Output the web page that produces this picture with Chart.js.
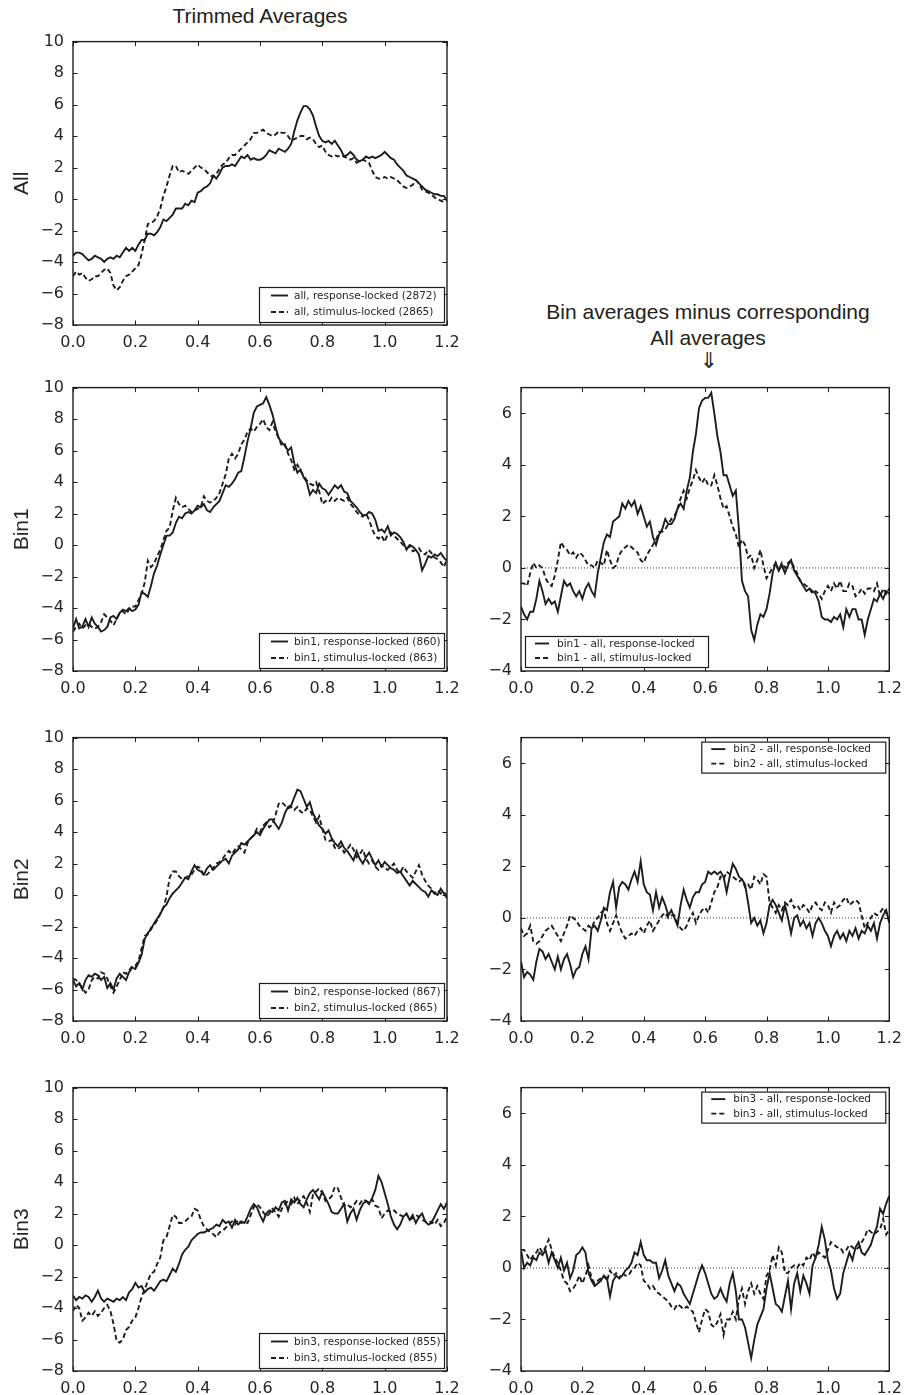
<!DOCTYPE html>
<html>
<head>
<meta charset="utf-8">
<script src="https://cdn.jsdelivr.net/npm/chart.js@4/dist/chart.umd.min.js"></script>
<style>
  html, body { margin: 0; padding: 0; background: #fff; }
  #fig { position: relative; width: 910px; height: 1395px; overflow: hidden; background: #fff; }
  #fig canvas { position: absolute; }
  .hdr { position: absolute; font-family: "Liberation Sans", Arial, sans-serif; font-size: 21px;
         color: #222; text-align: center; white-space: nowrap; line-height: 1; }
  .arrow { position: absolute; font-family: "DejaVu Sans", sans-serif; font-size: 22px;
           color: #222; text-align: center; line-height: 1; }
</style>
</head>
<body>
<div id="fig">
  <div class="hdr" style="left:110px; top:5px; width:300px;">Trimmed Averages</div>
  <div class="hdr" style="left:508px; top:301px; width:400px;">Bin averages minus corresponding</div>
  <div class="hdr" style="left:508px; top:327px; width:400px;">All averages</div>
  <div class="arrow" style="left:659px; top:350px; width:100px;">&#8659;</div>
</div>
<script>
// Sample times (s), one sample every 10 ms from 0.0 to 1.2
const timeSec = Array.from({ length: 121 }, (_, i) => i / 100);

// Trimmed averages, all trials
const allResp = [
  -3.6, -3.4, -3.4, -3.5, -3.7, -3.9, -3.8, -3.6, -3.7, -3.8,
  -4.0, -3.8, -3.7, -3.8, -3.6, -3.7, -3.4, -3.1, -3.3, -3.1,
  -3.3, -2.9, -2.6, -2.6, -2.2, -2.2, -2.3, -2.1, -1.8, -1.3,
  -1.4, -1.2, -1.0, -0.6, -0.6, -0.6, -0.3, -0.4, -0.1, -0.2,
  0.4, 0.5, 0.7, 0.8, 1.0, 1.5, 1.3, 1.6, 2.0, 2.1,
  2.1, 2.2, 2.1, 2.4, 2.7, 2.6, 2.8, 2.5, 2.6, 2.5,
  2.5, 2.6, 2.8, 3.1, 3.0, 2.9, 3.2, 3.1, 3.0, 3.2,
  3.5, 4.3, 5.0, 5.5, 5.9, 5.9, 5.7, 5.3, 4.6, 4.0,
  3.7, 3.6, 3.7, 3.5, 3.7, 3.4, 3.1, 2.7, 2.8, 3.0,
  2.8, 2.5, 2.4, 2.5, 2.7, 2.6, 2.7, 2.6, 2.7, 2.8,
  3.0, 2.8, 2.6, 2.5, 2.2, 2.0, 1.8, 1.5, 1.4, 1.3,
  1.2, 1.0, 0.8, 0.6, 0.5, 0.4, 0.3, 0.3, 0.2, 0.2, -0.1
];
const allStim = [
  -4.9, -4.6, -4.8, -4.7, -5.0, -5.2, -5.1, -4.9, -4.9, -4.7,
  -4.5, -4.4, -4.7, -5.5, -5.8, -5.6, -5.2, -4.9, -4.8, -4.6,
  -4.4, -4.2, -3.5, -2.6, -1.6, -1.5, -1.4, -1.1, -0.6, 0.2,
  0.8, 1.5, 2.1, 2.1, 1.7, 1.8, 1.7, 1.6, 1.8, 2.0,
  2.2, 2.0, 1.9, 1.7, 1.5, 1.4, 1.6, 1.9, 2.2, 2.3,
  2.6, 2.8, 2.8, 3.0, 3.2, 3.4, 3.6, 3.8, 4.2, 4.2,
  4.3, 4.4, 4.2, 4.1, 4.0, 4.1, 4.3, 4.2, 4.2, 4.0,
  3.7, 3.8, 3.9, 4.0, 4.0, 3.8, 3.9, 3.8, 3.5, 3.3,
  3.4, 3.0, 2.8, 2.7, 2.8, 2.7, 2.8, 2.7, 2.6, 2.5,
  2.6, 2.3, 2.4, 2.5, 2.4, 2.3, 1.8, 1.4, 1.3, 1.3,
  1.4, 1.3, 1.4, 1.3, 1.2, 1.0, 0.8, 0.7, 0.8, 0.9,
  1.2, 1.0, 0.6, 0.5, 0.4, 0.3, 0.1, 0.0, -0.1, -0.2, -0.1
];

// Bin 1
const bin1Resp = [
  -5.3, -4.7, -5.3, -5.2, -4.7, -5.2, -4.6, -5.0, -5.2, -5.5,
  -5.4, -5.2, -4.6, -4.5, -4.7, -4.3, -4.1, -4.2, -4.0, -4.2,
  -4.1, -3.8, -3.0, -3.1, -3.3, -2.6, -1.8, -1.3, -0.6, 0.0,
  0.6, 0.6, 0.8, 1.4, 1.8, 1.7, 2.0, 2.1, 2.0, 2.2,
  2.5, 2.4, 2.6, 2.2, 2.1, 2.4, 2.6, 2.8, 3.3, 3.8,
  3.7, 3.9, 4.2, 4.6, 4.7, 5.6, 6.6, 7.4, 8.4, 8.8,
  8.9, 9.0, 9.4, 8.9, 8.3, 7.5, 6.8, 6.5, 6.3, 6.0,
  6.2, 5.2, 4.6, 4.8, 4.3, 4.0, 3.2, 3.5, 3.3, 3.9,
  3.6, 3.5, 3.2, 3.5, 3.8, 3.6, 3.8, 3.4, 3.3, 2.8,
  2.6, 2.4, 2.1, 1.9, 1.9, 2.1, 2.0, 1.6, 0.9, 1.0,
  0.8, 1.2, 0.6, 0.8, 0.7, 0.5, 0.2, -0.3, 0.0, -0.1,
  -0.3, -0.6, -1.6, -1.2, -0.7, -0.8, -0.6, -0.7, -0.5, -0.8, -1.0
];
const bin1Stim = [
  -5.5, -5.2, -5.0, -5.3, -5.1, -5.0, -5.2, -5.3, -5.2, -4.9,
  -4.4, -4.6, -4.8, -5.1, -4.7, -4.3, -4.2, -4.4, -4.1, -3.9,
  -3.9, -3.5, -3.1, -2.4, -1.0, -1.4, -1.2, -0.7, -0.3, 0.3,
  0.9, 1.1, 2.2, 3.0, 2.6, 2.4, 2.5, 2.3, 2.1, 2.2,
  2.3, 2.4, 3.1, 2.8, 2.7, 2.8, 3.0, 3.3, 3.9, 4.5,
  5.5, 5.8, 5.5, 5.8, 6.4, 6.7, 7.2, 7.4, 7.2, 7.5,
  7.7, 8.0, 7.5, 7.3, 7.8, 7.2, 6.8, 6.3, 6.4, 5.8,
  5.4, 4.8, 5.1, 4.7, 4.4, 4.1, 3.9, 3.8, 4.0, 3.4,
  2.6, 2.8, 2.7, 3.0, 2.8, 3.0, 2.9, 2.8, 3.0, 2.6,
  2.4, 2.1, 1.9, 1.8, 2.0, 1.6, 1.0, 0.6, 0.4, 0.6,
  0.2, 0.7, 0.8, 0.6, 0.4, 0.2, 0.0, -0.2, -0.1, -0.4,
  -0.3, -0.2, -0.5, -0.6, -0.3, -0.5, -0.8, -0.9, -1.1, -1.4, -0.9
];
const bin1DiffResp = [
  -1.5, -1.8, -2.0, -1.7, -1.7, -1.2, -0.5, -0.9, -1.4, -1.2,
  -1.4, -1.3, -1.7, -1.1, -0.5, -0.7, -0.6, -0.9, -1.1, -0.9,
  -1.2, -0.8, -0.6, -0.9, -1.1, -0.2, 0.4, 1.0, 1.3, 1.2,
  1.8, 1.9, 2.0, 2.5, 2.3, 2.6, 2.4, 2.6, 2.1, 2.4,
  2.0, 1.6, 1.8, 1.2, 0.9, 1.3, 1.5, 1.9, 1.7, 1.7,
  1.9, 2.3, 2.5, 2.3, 3.0, 3.5, 4.5, 5.2, 6.2, 6.5,
  6.6, 6.6, 6.8, 6.0, 5.1, 4.5, 3.6, 3.6, 3.2, 2.8,
  3.0, 1.5, -0.5, -0.9, -1.1, -2.4, -2.8, -2.2, -1.8, -1.9,
  -1.6, -1.0, -0.2, 0.2, -0.1, 0.1, -0.2, 0.1, 0.3, -0.1,
  -0.3, -0.5, -0.7, -0.9, -0.8, -0.9, -1.0, -1.3, -1.9, -2.0,
  -2.0, -2.1, -1.9, -2.0, -1.8, -2.3, -1.6, -1.9, -1.6, -1.6,
  -2.0, -2.0, -2.6, -2.0, -1.6, -1.2, -1.3, -1.0, -1.2, -0.9, -1.0
];
const bin1DiffStim = [
  -0.6, -0.6, -0.7, -0.2, 0.2, 0.0, 0.1, 0.0, -0.4, -0.6,
  -0.7, -0.3, 0.3, 1.0, 0.8, 0.7, 0.5, 0.6, 0.4, 0.6,
  0.5, 0.3, 0.1, 0.1, 0.0, 0.3, 0.2, 0.1, 0.7, 0.3,
  0.0, 0.1, 0.5, 0.7, 0.8, 0.9, 0.8, 0.7, 0.6, 0.3,
  0.2, 0.5, 0.7, 0.9, 1.1, 1.4, 1.4, 1.5, 1.7, 1.9,
  2.0, 2.3, 2.7, 3.0, 2.7, 3.1, 3.4, 3.8, 3.5, 3.3,
  3.5, 3.2, 3.2, 3.6, 3.2, 2.7, 2.3, 2.4, 2.0, 1.6,
  1.3, 0.8, 1.1, 0.9, 0.4, 0.5, 0.0, 0.3, 0.7, 0.1,
  -0.4, -0.2, 0.0, 0.2, -0.1, 0.2, 0.0, 0.2, 0.3, 0.0,
  -0.2, -0.5, -0.6, -0.7, -0.8, -1.0, -0.9, -1.0, -1.2, -0.9,
  -0.7, -0.9, -0.6, -0.8, -0.5, -0.9, -0.9, -0.6, -0.7, -1.1,
  -1.0, -0.8, -1.0, -0.8, -0.8, -0.9, -0.6, -1.1, -0.8, -1.0, -0.8
];

// Bin 2
const bin2Resp = [
  -5.4, -5.8, -5.6, -6.0, -5.4, -5.1, -5.2, -5.0, -5.1, -5.4,
  -5.2, -5.9, -5.6, -6.0, -5.3, -5.0, -5.2, -5.4, -4.9, -4.6,
  -4.7, -4.3, -3.8, -2.8, -2.4, -2.2, -1.8, -1.5, -1.2, -0.8,
  -0.6, -0.2, 0.1, 0.3, 0.5, 0.8, 1.1, 1.0, 1.5, 1.9,
  1.6, 1.5, 1.3, 1.7, 1.9, 1.6, 1.8, 2.0, 2.2, 2.3,
  2.0, 2.5, 2.7, 2.9, 3.3, 3.2, 3.4, 3.6, 3.8, 4.0,
  3.8, 4.2, 4.5, 4.8, 4.8, 4.5, 4.2, 4.6, 5.2, 5.6,
  5.7, 6.2, 6.7, 6.6, 6.1, 5.6, 5.9, 5.2, 4.8, 4.4,
  4.2, 3.9, 4.1, 3.6, 3.3, 3.1, 3.4, 3.0, 2.8, 2.5,
  2.2, 2.8, 2.3, 2.0, 2.4, 2.7, 2.3, 1.9, 2.2, 1.8,
  2.1, 1.9, 1.7, 1.6, 1.4, 1.5, 1.2, 0.9, 0.6, 0.9,
  0.7, 0.5, 0.3, 0.2, -0.1, 0.3, 0.1, 0.0, 0.4, 0.1, -0.2
];
const bin2Stim = [
  -5.3, -5.4, -5.6, -5.9, -6.2, -6.0, -5.4, -5.2, -5.3, -4.9,
  -5.0, -5.3, -5.8, -6.2, -5.8, -5.4, -4.9, -5.0, -4.8, -4.5,
  -4.5, -4.2, -3.4, -2.6, -2.5, -2.1, -1.9, -1.6, -1.2, -0.8,
  -0.1, 1.1, 1.5, 1.5, 1.2, 1.0, 1.1, 1.2, 1.3, 1.6,
  1.8, 1.7, 1.2, 1.3, 1.5, 1.7, 2.0, 2.1, 2.3, 2.6,
  2.8, 2.6, 2.9, 3.1, 2.9, 2.7, 3.3, 3.6, 3.8, 4.2,
  4.0, 4.4, 4.6, 4.3, 4.5, 5.1, 5.8, 5.9, 5.7, 5.5,
  5.6, 5.4, 5.6, 5.3, 5.2, 5.5, 5.4, 5.0, 4.6, 5.0,
  4.2, 3.5, 3.4, 3.5, 3.0, 2.9, 3.1, 2.7, 2.9, 3.2,
  2.9, 2.4, 2.6, 2.9, 2.3, 2.0, 2.2, 1.8, 1.6, 1.9,
  1.7, 1.6, 1.8, 2.0, 1.6, 1.4, 1.8, 1.5, 1.3, 1.1,
  1.5, 1.9, 1.3, 0.9, 0.6, 0.4, 0.1, 0.3, 0.1, 0.2, -0.1
];
const bin2DiffResp = [
  -1.7, -2.3, -2.1, -2.2, -2.4, -1.7, -1.2, -1.3, -1.6, -1.4,
  -1.7, -2.0, -1.5, -2.0, -1.6, -1.4, -1.8, -2.3, -2.0, -1.9,
  -1.4, -1.1, -1.6, -0.4, -0.3, -0.5, -0.1, 0.4, 0.3, 1.0,
  1.4, 0.4, 1.2, 1.4, 1.3, 1.1, 1.5, 1.8, 1.4, 2.2,
  1.3, 1.0, 0.9, 0.3, 1.0, 0.4, 0.8, 0.5, 0.1, 0.3,
  0.0, -0.3, 0.5, 1.1, 0.7, 0.4, 0.8, 1.0, 1.0, 1.3,
  1.4, 1.8, 1.7, 1.8, 1.7, 1.8, 1.6, 1.0, 1.6, 2.1,
  1.9, 1.6, 1.5, 1.3, 0.6, -0.2, 0.0, -0.3, -0.1, -0.6,
  -0.2, 0.5, 0.7, 0.5, 0.2, -0.1, 0.5, 0.0, -0.6, 0.0,
  0.1, -0.3, -0.1, -0.4, -0.2, -0.7, -0.2, 0.0, -0.2, -0.5,
  -0.7, -1.1, -0.7, -0.5, -0.8, -0.6, -0.9, -0.5, -0.7, -0.4,
  -0.8, -0.5, -0.6, -0.3, -0.5, -0.2, -0.8, -0.2, 0.1, 0.3, -0.2
];
const bin2DiffStim = [
  -0.4, -0.7, -0.6, -0.3, -0.9, -1.0, -0.9, -0.7, -0.5, -0.4,
  -0.3, -0.5, -0.7, -0.9, -0.6, -0.3, 0.1, 0.0, -0.1, -0.3,
  -0.4, -0.5, -0.3, -0.4, -0.1, 0.0, 0.2, 0.3, -0.2, -0.5,
  -0.2, 0.1, -0.3, -0.6, -0.8, -0.7, -0.6, -0.7, -0.5, -0.4,
  -0.6, -0.3, -0.1, -0.5, -0.3, -0.1, 0.1, 0.2, 0.0, 0.1,
  0.1, -0.2, -0.4, -0.5, -0.3, 0.0, 0.2, -0.2, 0.1, 0.3,
  0.4, 0.2, 0.6, 1.0, 1.2, 1.6, 1.5, 1.8, 1.7, 1.6,
  1.5, 1.4, 1.5, 1.2, 1.3, 1.1, 1.6, 1.5, 1.3, 1.7,
  1.6, 0.6, 0.4, 0.2, 0.5, 0.3, 0.6, 0.5, 0.7, 0.4,
  0.5, 0.3, 0.5, 0.4, 0.2, 0.5, 0.6, 0.4, 0.3, 0.6,
  0.5, 0.2, 0.6, 0.4, 0.5, 0.7, 0.8, 0.5, 0.6, 0.7,
  0.6, 0.1, -0.4, -0.2, 0.0, 0.2, 0.1, 0.2, 0.4, 0.2, 0.0
];

// Bin 3
const bin3Resp = [
  -3.2, -3.5, -3.3, -3.4, -3.2, -3.3, -3.6, -3.3, -2.9, -3.4,
  -3.6, -3.4, -3.5, -3.6, -3.4, -3.5, -3.3, -3.5, -3.0, -2.8,
  -2.4, -2.7, -2.6, -3.0, -2.8, -2.7, -2.9, -2.6, -2.3, -2.2,
  -2.3, -1.9, -1.5, -1.7, -1.2, -0.6, -0.3, -0.1, 0.3, 0.5,
  0.7, 0.8, 0.8, 0.9, 1.0, 1.1, 1.3, 1.2, 1.6, 1.4,
  1.5, 1.1, 1.6, 1.3, 1.5, 1.4, 1.8, 2.3, 2.6, 2.4,
  1.9, 1.5, 2.0, 2.2, 2.1, 2.4, 2.2, 2.7, 2.8, 2.2,
  2.9, 2.7, 3.0, 2.6, 2.4, 2.9, 3.3, 3.5, 3.2, 2.9,
  3.4, 3.0, 2.6, 2.1, 2.0, 2.0, 2.3, 2.6, 1.5, 2.0,
  2.3, 1.6, 2.2, 2.6, 2.8, 2.6, 3.0, 3.5, 4.4, 4.0,
  3.3, 2.6, 1.8, 1.3, 1.0, 1.3, 1.8, 2.0, 1.6, 1.9,
  1.4, 1.8, 2.0, 1.5, 1.3, 1.4, 1.8, 2.2, 2.6, 2.3, 2.7
];
const bin3Stim = [
  -4.2, -3.8, -4.0, -4.8, -4.6, -4.3, -4.5, -4.2, -4.5, -4.3,
  -4.0, -3.8, -4.2, -5.0, -6.1, -6.2, -6.0, -5.4, -5.2, -4.8,
  -4.6, -4.0, -3.3, -2.8, -2.3, -1.8, -1.7, -1.2, -0.8, 0.3,
  0.5, 1.2, 1.9, 1.8, 1.4, 1.4, 1.5, 1.7, 1.8, 2.3,
  2.2, 1.6, 1.2, 1.0, 0.8, 0.7, 0.5, 0.8, 0.9, 1.1,
  1.3, 1.5, 1.3, 1.6, 1.4, 1.5, 1.4, 1.9, 2.4, 2.6,
  2.4, 2.1, 1.8, 2.0, 2.3, 2.1, 1.8, 2.3, 2.6, 2.8,
  2.6, 3.0, 2.6, 2.9, 3.1, 2.7, 2.1, 3.2, 3.4, 3.6,
  3.3, 2.8, 2.9, 3.1, 3.7, 3.6, 3.0, 2.5, 2.6, 2.4,
  2.5, 2.8, 2.6, 2.9, 2.8, 2.7, 2.9, 2.5, 2.4, 1.7,
  2.0, 2.2, 2.1, 2.2, 2.0, 1.9, 1.8, 2.0, 1.6, 1.7,
  1.9, 1.8, 1.6, 1.5, 1.4, 1.5, 1.3, 1.6, 1.2, 1.4, 1.8
];
const bin3DiffResp = [
  0.7, 0.0, 0.2, 0.1, 0.4, 0.3, 0.6, 0.5, 0.7, 0.2,
  0.6, 0.3, 0.0, 0.4, -0.1, 0.2, -0.4, -0.1, 0.5, 0.6,
  0.8, 0.6, -0.2, -0.5, -0.7, -0.6, -0.5, -0.3, -0.4, -1.1,
  -0.5, -0.3, -0.4, -0.3, -0.1, 0.0, 0.2, 0.6, 0.5, 1.0,
  0.5, 0.3, 0.3, 0.2, 0.2, -0.4, -0.1, 0.3, -0.3, -0.6,
  -0.9, -0.6, -0.7, -1.0, -1.2, -1.4, -1.0, -0.6, -0.2, 0.1,
  -0.2, -0.6, -1.0, -1.2, -1.1, -0.8, -1.1, -1.3, -0.6, -0.2,
  -0.9, -2.0, -2.0, -2.3, -2.9, -3.5, -2.8, -2.2, -1.9, -1.6,
  -0.8, -0.2, -0.8, -1.4, -1.5, -1.7, -1.1, -0.5, -1.6, -0.6,
  -0.2, -0.9, -0.3, -0.6, -1.0, 0.1, 0.4, 0.9, 1.6, 1.1,
  0.3, -0.1, -0.8, -1.2, -1.0, -0.2, 0.2, 0.6, 0.3, 0.8,
  1.0, 0.6, 0.5, 0.7, 0.9, 1.3, 1.6, 2.3, 2.1, 2.5, 2.8
];
const bin3DiffStim = [
  0.7, 0.7, 0.5, 0.3, 0.5, 0.6, 0.8, 0.6, 0.8, 1.1,
  0.7, 0.4, 0.2, -0.1, -0.5, -0.6, -0.9, -0.8, -0.6, -0.3,
  -0.6, -0.3, 0.1, -0.4, -0.6, -0.5, -0.4, -0.3, -0.5, -0.1,
  -0.3, -0.2, -0.4, -0.2, -0.3, -0.3, -0.1, 0.0, 0.2, 0.1,
  -0.5, -0.6, -0.8, -0.7, -0.9, -1.0, -1.1, -1.2, -1.3, -1.5,
  -1.6, -1.4, -1.5, -1.6, -1.5, -1.6, -1.7, -2.1, -2.5, -2.0,
  -1.6, -1.7, -2.2, -2.3, -2.1, -1.8, -2.6, -2.0, -2.0, -1.7,
  -2.0, -1.2, -0.8, -1.4, -0.9, -0.6, -1.0, -0.7, -1.0, -1.2,
  -0.3, -0.1, 0.5, 0.1, 0.8, 0.6, -0.2, -0.2, 0.0, 0.1,
  0.0, 0.2, 0.1, 0.4, 0.3, 0.6, 0.4, 0.6, 0.5, 0.4,
  0.7, 1.0, 0.9, 0.8, 0.8, 0.6, 0.7, 0.9, 0.8, 0.7,
  0.8, 1.0, 1.2, 1.5, 1.4, 1.3, 1.4, 1.5, 1.9, 1.3, 1.5
];

// Axis settings
const timeRange = [0, 1.2];
const timeStep = 0.2;
const leftRange = [-8, 10];
const rightRange = [-4, 7];
const valueStep = 2;

const INK = '#1d1d1d';
const TEXT = '#262626';

// Frame, inward tick marks on all four sides, and a boxed legend inside the plot
const framePlugin = {
  id: 'frame',
  afterDatasetsDraw(chart, args, opts) {
    const { ctx, chartArea: a, scales } = chart;
    const xs = scales.x, ys = scales.y;
    ctx.save();
    ctx.strokeStyle = INK;
    ctx.lineWidth = 1;
    const len = 4.5;
    ctx.beginPath();
    xs.ticks.forEach(t => {
      const px = Math.round(xs.getPixelForValue(t.value)) + 0.5;
      ctx.moveTo(px, a.bottom); ctx.lineTo(px, a.bottom - len);
      ctx.moveTo(px, a.top); ctx.lineTo(px, a.top + len);
    });
    ys.ticks.forEach(t => {
      const py = Math.round(ys.getPixelForValue(t.value)) + 0.5;
      ctx.moveTo(a.left, py); ctx.lineTo(a.left + len, py);
      ctx.moveTo(a.right, py); ctx.lineTo(a.right - len, py);
    });
    ctx.stroke();
    ctx.lineWidth = 1.4;
    ctx.strokeRect(a.left, a.top, a.right - a.left, a.bottom - a.top);

    // legend
    const items = chart.data.datasets.filter(d => d.label);
    const w = opts.w, h = opts.h, ins = opts.inset;
    const bx = opts.corner.includes('l') ? a.left + ins : a.right - ins - w;
    const by = opts.corner.includes('t') ? a.top + ins : a.bottom - ins - h;
    ctx.fillStyle = '#fff';
    ctx.fillRect(bx, by, w, h);
    ctx.lineWidth = 1.2;
    ctx.strokeStyle = INK;
    ctx.strokeRect(bx + 0.5, by + 0.5, w, h);
    ctx.font = opts.fontSize + 'px "DejaVu Sans"';
    ctx.textBaseline = 'middle';
    ctx.textAlign = 'left';
    items.forEach((d, k) => {
      const ry = by + opts.row0 + k * opts.rowGap;
      ctx.save();
      ctx.strokeStyle = d.borderColor;
      ctx.lineWidth = d.borderWidth;
      ctx.setLineDash(d.borderDash || []);
      ctx.beginPath();
      ctx.moveTo(bx + opts.s0, ry); ctx.lineTo(bx + opts.s1, ry);
      ctx.stroke();
      ctx.restore();
      ctx.fillStyle = TEXT;
      ctx.fillText(d.label, bx + opts.tx, ry + 0.5);
    });
    ctx.restore();
  }
};

const fig = document.getElementById('fig');

const leftCol = { left: 0, width: 470, L: 73, R: 23 };
const rightCol = { left: 470, width: 440, L: 51, R: 14 };
const rowTops = [35, 381, 731, 1081];
const PLOT_H = 290, TOP_PAD = 12, BOT = 28;

const leftLegend = { w: 185, h: 35, inset: 3, row0: 8.5, rowGap: 16.5, s0: 12, s1: 29, tx: 35, fontSize: 10.5 };
const rightLegend = { w: 183, h: 31, inset: 4, row0: 7.5, rowGap: 14.5, s0: 10, s1: 24, tx: 32, fontSize: 10.5 };

const panels = [
  { col: leftCol, row: 0, range: leftRange, yTitle: 'All', series: [allResp, allStim],
    labels: ['all, response-locked (2872)', 'all, stimulus-locked (2865)'],
    legend: Object.assign({ corner: 'br' }, leftLegend), zero: false },
  { col: leftCol, row: 1, range: leftRange, yTitle: 'Bin1', series: [bin1Resp, bin1Stim],
    labels: ['bin1, response-locked (860)', 'bin1, stimulus-locked (863)'],
    legend: Object.assign({ corner: 'br' }, leftLegend), zero: false },
  { col: leftCol, row: 2, range: leftRange, yTitle: 'Bin2', series: [bin2Resp, bin2Stim],
    labels: ['bin2, response-locked (867)', 'bin2, stimulus-locked (865)'],
    legend: Object.assign({ corner: 'br' }, leftLegend), zero: false },
  { col: leftCol, row: 3, range: leftRange, yTitle: 'Bin3', series: [bin3Resp, bin3Stim],
    labels: ['bin3, response-locked (855)', 'bin3, stimulus-locked (855)'],
    legend: Object.assign({ corner: 'br' }, leftLegend), zero: false },
  { col: rightCol, row: 1, range: rightRange, yTitle: '', series: [bin1DiffResp, bin1DiffStim],
    labels: ['bin1 - all, response-locked', 'bin1 - all, stimulus-locked'],
    legend: Object.assign({ corner: 'bl' }, rightLegend), zero: true },
  { col: rightCol, row: 2, range: rightRange, yTitle: '', series: [bin2DiffResp, bin2DiffStim],
    labels: ['bin2 - all, response-locked', 'bin2 - all, stimulus-locked'],
    legend: Object.assign({ corner: 'tr' }, rightLegend, { w: 184 }), zero: true },
  { col: rightCol, row: 3, range: rightRange, yTitle: '', series: [bin3DiffResp, bin3DiffStim],
    labels: ['bin3 - all, response-locked', 'bin3 - all, stimulus-locked'],
    legend: Object.assign({ corner: 'tr' }, rightLegend, { w: 184 }), zero: true }
];

const fmtValue = v => (v < 0 ? '\u2212' + Math.abs(v) : String(v));

panels.forEach(p => {
  const cv = document.createElement('canvas');
  const H = TOP_PAD + PLOT_H + BOT;
  cv.width = p.col.width;
  cv.height = H;
  cv.style.left = p.col.left + 'px';
  cv.style.top = (rowTops[p.row] - TOP_PAD) + 'px';
  fig.appendChild(cv);

  const datasets = p.series.map((arr, k) => ({
    label: p.labels[k],
    data: timeSec.map((t, i) => ({ x: t, y: arr[i] })),
    borderColor: INK,
    borderWidth: 1.9,
    borderDash: k === 0 ? [] : [5, 3],
    pointRadius: 0,
    tension: 0,
    fill: false
  }));
  if (p.zero) {
    datasets.push({
      label: '',
      data: [{ x: timeRange[0], y: 0 }, { x: timeRange[1], y: 0 }],
      borderColor: '#333',
      borderWidth: 1,
      borderDash: [1, 2],
      pointRadius: 0,
      fill: false
    });
  }

  const tickFont = { family: '"DejaVu Sans"', size: 16 };
  new Chart(cv, {
    type: 'line',
    data: { datasets },
    options: {
      responsive: false,
      animation: false,
      events: [],
      layout: { padding: { top: TOP_PAD, right: p.col.R, left: 0, bottom: 0 } },
      plugins: { legend: { display: false }, tooltip: { enabled: false }, frame: p.legend },
      scales: {
        x: {
          type: 'linear', min: timeRange[0], max: timeRange[1],
          grid: { display: false, drawTicks: false }, border: { display: false },
          ticks: { stepSize: timeStep, padding: 8, font: tickFont, color: TEXT, maxRotation: 0,
                   autoSkip: false, includeBounds: false, callback: v => Number(v).toFixed(1) },
          afterFit(s) { s.height = BOT; }
        },
        y: {
          type: 'linear', min: p.range[0], max: p.range[1],
          grid: { display: false, drawTicks: false }, border: { display: false },
          ticks: { stepSize: valueStep, padding: 9, font: tickFont, color: TEXT,
                   autoSkip: false, includeBounds: false, callback: v => fmtValue(Math.round(v)) },
          title: p.yTitle ? { display: true, text: p.yTitle, color: TEXT,
                              font: { family: '"Liberation Sans"', size: 21 }, padding: { top: 10 } }
                          : { display: false },
          afterFit(s) { s.width = p.col.L; }
        }
      }
    },
    plugins: [framePlugin]
  });
});
</script>
</body>
</html>
